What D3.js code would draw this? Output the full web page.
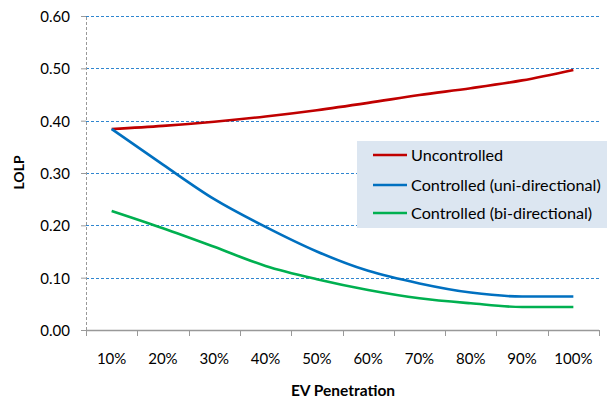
<!DOCTYPE html>
<meta charset="utf-8">
<script src="https://d3js.org/d3.v7.min.js"></script>
<style>
  body { margin: 0; background: #fff; }
  text { font-family: Lato, "Noto Sans", sans-serif; fill: #000; }
</style>
<div id="my_dataviz"></div>
<script>
// categories and series
var penetration = ["10%", "20%", "30%", "40%", "50%", "60%", "70%", "80%", "90%", "100%"];
var uncontrolled = [0.384, 0.390, 0.398, 0.408, 0.420, 0.434, 0.449, 0.462, 0.477, 0.497];
var uniDirectional = [0.384, 0.316, 0.250, 0.197, 0.150, 0.113, 0.089, 0.0715, 0.064, 0.064];
var biDirectional = [0.2275, 0.1945, 0.159, 0.1224, 0.097, 0.0765, 0.0606, 0.051, 0.044, 0.044];
var yTicks = [0, 0.1, 0.2, 0.3, 0.4, 0.5, 0.6];

var seriesNames = ["Uncontrolled", "Controlled (uni-directional)", "Controlled (bi-directional)"];
var seriesColors = ["#c00000", "#0070c0", "#00b050"];
var seriesValues = [uncontrolled, uniDirectional, biDirectional];

var W = 607, H = 401;
var margin = {top: 16, right: 8, bottom: 71, left: 86},
    width = W - margin.left - margin.right,
    height = H - margin.top - margin.bottom;

var svg = d3.select("#my_dataviz")
  .append("svg")
    .attr("width", W)
    .attr("height", H)
  .append("g")
    .attr("transform", "translate(" + margin.left + "," + margin.top + ")");

var x = d3.scaleBand()
  .domain(penetration)
  .range([0, width]);

var y = d3.scaleLinear()
  .domain([0, 0.6])
  .range([height, 0]);

// horizontal dashed gridlines
svg.selectAll(".grid")
  .data(yTicks.filter(function(d) { return d > 0; }))
  .enter()
  .append("line")
    .attr("x1", 0)
    .attr("x2", width)
    .attr("y1", function(d) { return Math.round(y(d)) + 0.5; })
    .attr("y2", function(d) { return Math.round(y(d)) + 0.5; })
    .style("stroke", "#2f86d0")
    .style("stroke-width", 1)
    .style("stroke-dasharray", "3,2");

// y axis (dashed grey)
var yAxis = svg.append("g")
  .style("font-size", "15px")
  .call(d3.axisLeft(y).tickValues(yTicks).tickFormat(d3.format(".2f")).tickSize(5).tickPadding(11));
yAxis.select(".domain")
  .attr("d", "M0.5," + height + "V0")
  .style("stroke", "#999")
  .style("stroke-dasharray", "3,2");
yAxis.selectAll(".tick line").style("stroke", "#999");
yAxis.selectAll(".tick text").style("font-family", "Lato, sans-serif").attr("dy", "0.36em");

// x axis: ticks at band boundaries
var xAxis = svg.append("g")
  .attr("transform", "translate(0," + height + ")");
xAxis.append("line")
  .attr("x1", 0).attr("x2", width)
  .attr("y1", 0.5).attr("y2", 0.5)
  .style("stroke", "#999")
  .style("stroke-width", 1.5);
xAxis.selectAll(".xtick")
  .data(penetration.concat(["end"]))
  .enter()
  .append("line")
    .attr("x1", function(d, i) { return Math.round(i * x.step()) + 0.5; })
    .attr("x2", function(d, i) { return Math.round(i * x.step()) + 0.5; })
    .attr("y1", 0)
    .attr("y2", 6)
    .style("stroke", "#999");
xAxis.selectAll(".xlabel")
  .data(penetration)
  .enter()
  .append("text")
    .attr("x", function(d) { return x(d) + x.bandwidth() / 2; })
    .attr("y", 34)
    .attr("text-anchor", "middle")
    .style("font-size", "15px")
    .text(function(d) { return d; });

// lines
var line = d3.line()
  .x(function(d, i) { return x(penetration[i]) + x.bandwidth() / 2; })
  .y(function(d) { return y(d); })
  .curve(d3.curveMonotoneX);

svg.selectAll(".series")
  .data(seriesValues)
  .enter()
  .append("path")
    .attr("d", function(d) { return line(d); })
    .style("fill", "none")
    .style("stroke", function(d, i) { return seriesColors[i]; })
    .style("stroke-width", 2.6);

// axis titles
svg.append("text")
  .attr("transform", "translate(" + (-62) + "," + (height / 2 - 0.5) + ") rotate(-90)")
  .attr("text-anchor", "middle")
  .style("font-size", "14px")
  .style("font-weight", "bold")
  .text("LOLP");

svg.append("text")
  .attr("x", 343 - margin.left)
  .attr("y", 396 - margin.top)
  .attr("text-anchor", "middle")
  .style("font-size", "15.5px")
  .style("font-weight", "bold")
  .text("EV Penetration");

// legend
var legend = svg.append("g")
  .attr("transform", "translate(" + (357 - margin.left) + "," + (141 - margin.top) + ")");
legend.append("rect")
  .attr("width", 250)
  .attr("height", 87)
  .style("fill", "#dce6f1");
var item = legend.selectAll(".item")
  .data(seriesNames)
  .enter()
  .append("g")
    .attr("transform", function(d, i) { return "translate(0," + [14, 44, 72][i] + ")"; });
item.append("line")
  .attr("x1", 16).attr("x2", 50)
  .style("stroke", function(d, i) { return seriesColors[i]; })
  .style("stroke-width", 2.6);
item.append("text")
  .attr("x", 54)
  .attr("dy", "0.36em")
  .style("font-size", "16.2px")
  .text(function(d) { return d; });
</script>
